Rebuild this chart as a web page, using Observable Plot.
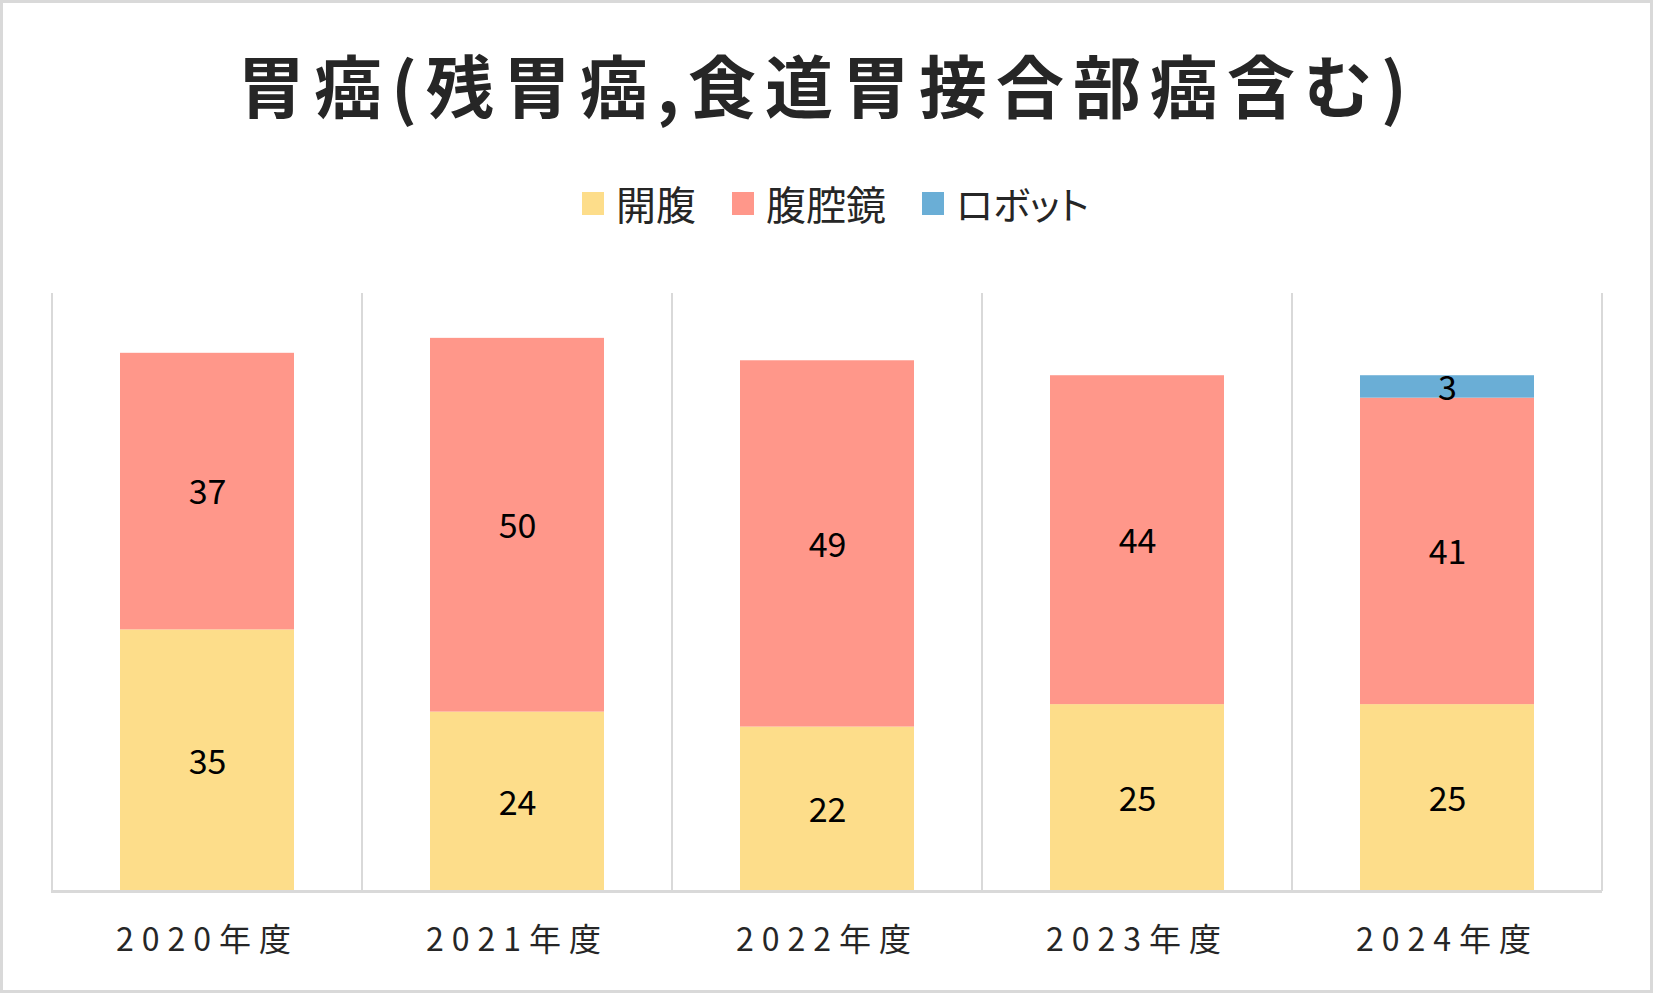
<!DOCTYPE html>
<html><head><meta charset="utf-8">
<script src="https://cdn.jsdelivr.net/npm/d3@7"></script>
<script src="https://cdn.jsdelivr.net/npm/@observablehq/plot@0.6"></script>
<style>
html,body{margin:0;padding:0;background:#fff;}
#wrap{position:relative;width:1653px;height:993px;overflow:hidden;font-family:'Noto Sans CJK JP',sans-serif;background:#fff;}
#frame{position:absolute;left:0;top:0;right:0;bottom:0;border:3px solid #d9d9d9;pointer-events:none;}
#title{position:absolute;left:0;right:0;top:38px;text-align:center;font-size:68px;font-weight:bold;color:#262626;letter-spacing:9px;line-height:92px;}
#legend{position:absolute;left:18px;right:0;top:180px;display:flex;justify-content:center;align-items:center;font-size:40px;color:#262626;line-height:46px;}
.item{display:flex;align-items:center;margin:0 18px;}
.sw{width:22px;height:23px;margin-right:12px;}
.kana{font-feature-settings:"palt";font-size:38px;}
#chart{position:absolute;left:0;top:240px;}
[aria-label="x-axis tick label"] text{letter-spacing:8px;}
</style></head>
<body><div id="wrap"><div id="title"></div><div id="legend"></div><div id="chart"></div><div id="frame"></div></div>
<script>
const titleText = "胃癌(残胃癌,食道胃接合部癌含む)";
const years = ["2020年度","2021年度","2022年度","2023年度","2024年度"];
const series = ["開腹","腹腔鏡","ロボット"];
const kaifuku = [35,24,22,25,25];
const fukukukyo = [37,50,49,44,41];
const robot = [0,0,0,0,3];
const colors = ["#FDDD8A","#FF978A","#6AAED6"];
const yMax = 80;

const seriesValues = [kaifuku, fukukukyo, robot];
const data = years.flatMap((year,i)=>series.map((s,j)=>({year, series:s, value:seriesValues[j][i]})));

document.getElementById("title").textContent = titleText;
const legend = document.getElementById("legend");
series.forEach((s,j)=>{
  const it = document.createElement("div"); it.className="item";
  const sw = document.createElement("div"); sw.className="sw"; sw.style.background=colors[j];
  const t = document.createElement("span"); t.textContent=s;
  if (/[\u30A0-\u30FF]/.test(s)) t.className="kana";
  it.appendChild(sw); it.appendChild(t); legend.appendChild(it);
});

const grid = (index, scales, values, dims) => {
  const g = d3.create("svg:g");
  const xs = years.map(d=>scales.x(d)).concat([dims.width - dims.marginRight]);
  g.selectAll("line").data(xs).join("line")
    .attr("x1",d=>d).attr("x2",d=>d)
    .attr("y1",scales.y(yMax)).attr("y2",scales.y(0))
    .attr("stroke","#d9d9d9").attr("stroke-width",2);
  return g.node();
};

const plot = Plot.plot({
  width:1653, height:720,
  marginTop:53, marginBottom:69, marginLeft:51, marginRight:51,
  x:{domain:years, padding:0, label:null},
  y:{domain:[0,yMax], axis:null},
  color:{domain:series, range:colors},
  style:{fontFamily:"'Noto Sans CJK JP', sans-serif", background:"transparent", overflow:"visible"},
  marks:[
    grid,
    Plot.barY(data, {x:"year", y:"value", fill:"series", z:"series", order:series, insetLeft:68, insetRight:68}),
    Plot.ruleY([0], {stroke:"#d9d9d9", strokeWidth:3}),
    Plot.text(data.filter(d=>d.value>0), Plot.stackY({x:"year", y:"value", z:"series", order:series, text:d=>String(d.value), fontSize:34, fill:"#000", dy:2})),
    Plot.axisX({tickSize:0, tickPadding:37, fontSize:32, fill:"#262626", label:null})
  ]
});
document.getElementById("chart").appendChild(plot);
</script></body></html>
